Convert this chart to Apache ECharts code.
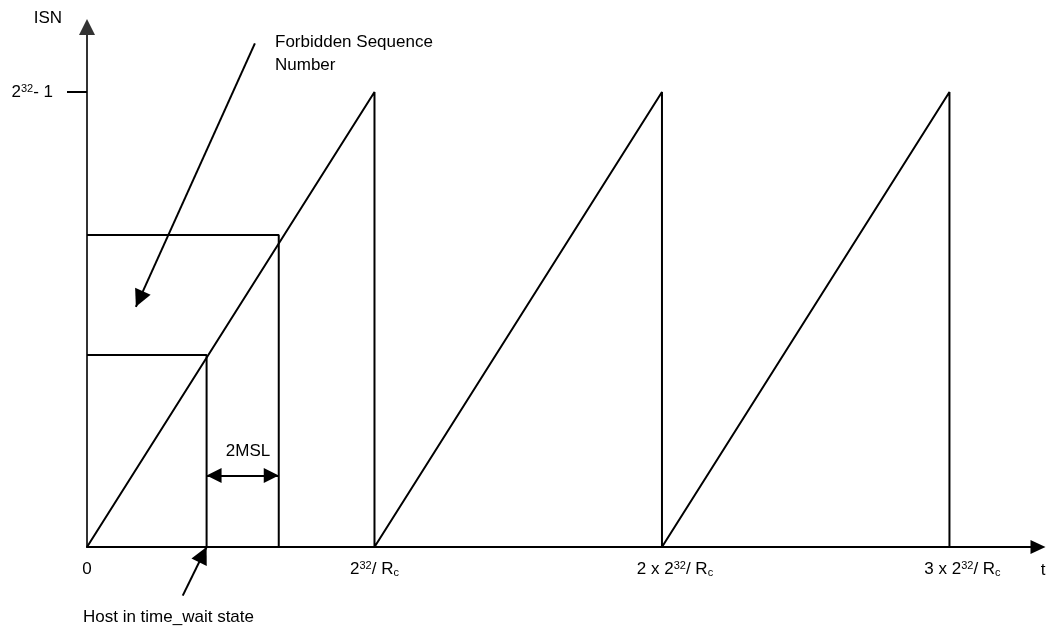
<!DOCTYPE html>
<html>
<head>
<meta charset="utf-8">
<script src="https://cdn.jsdelivr.net/npm/echarts@6/dist/echarts.min.js"></script>
<style>html,body{margin:0;padding:0;background:#fff}#c{width:1048px;height:631px}</style>
</head>
<body>
<div id="c"></div>
<script>
// time in units of one wrap period (2^32 / Rc); ISN as a fraction of 2^32 - 1
const sawTime = [0, 1, 1, 2, 2, 3, 3];
const sawISN  = [0, 1, 0, 1, 0, 1, 0];
const xTickValues = [0, 1, 2, 3];
const xTickLabels = ['0', '2{sup|32}/ R{sub|c}', '{s|}2 x 2{sup|32}/ R{sub|c}', '{s|}3 x 2{sup|32}/ R{sub|c}'];
const yTickValues = [1];
const yTickLabels = ['2{sup|32}- 1'];
// time_wait entry (inner box) and end of 2MSL (outer box)
const boxInnerTime = [0, 0.416, 0.416];
const boxInnerISN  = [0.422, 0.422, 0];
const boxOuterTime = [0, 0.667, 0.667];
const boxOuterISN  = [0.686, 0.686, 0];
// annotation arrows: [fromTime, fromISN, toTime, toISN]
const arrowForbidden = [0.584, 1.107, 0.170, 0.528];
const arrowHost      = [0.333, -0.107, 0.416, 0];
const arrow2MSL      = [0.416, 0.157, 0.667, 0.157];
// annotation texts: [time, ISN, text]
const textForbidden = [0.654, 1.0835, 'Forbidden Sequence\nNumber'];
const text2MSL      = [0.560, 0.210, '2MSL'];
const textHost      = [-0.014, -0.155, 'Host in time_wait state'];

const FONT = "'Liberation Sans', Arial, sans-serif";
const FS = 17;
const rich = {
  sup: { fontSize: 11, lineHeight: 11, verticalAlign: 'top', fontFamily: FONT, color: '#000' },
  sub: { fontSize: 11, lineHeight: 11, verticalAlign: 'bottom', fontFamily: FONT, color: '#000' },
  s: { width: 26 }
};
// solid triangle whose tip sits at the centre of a square symbol box (so it ends exactly at the line end)
const HEAD = 'path://M0,0 L0.5,1 L-0.5,1 Z M-1,-1 L-1,-1 M1,-1 L1,-1';

const zip = (a, b) => a.map((v, i) => [v, b[i]]);
const chart = echarts.init(document.getElementById('c'), null, { renderer: 'canvas' });

const blackLine = { color: '#000', width: 2 };

chart.setOption({
  animation: false,
  backgroundColor: '#fff',
  textStyle: { fontFamily: FONT },
  grid: { left: 87, right: 10, top: 27, bottom: 84, containLabel: false, outerBoundsMode: 'none' },
  xAxis: {
    type: 'value', min: 0, max: 3.308, interval: 1,
    name: 't', nameLocation: 'end', nameGap: 5,
    nameTextStyle: { fontSize: FS, fontFamily: FONT, color: '#000', align: 'center', verticalAlign: 'top', lineHeight: 18, padding: [14, 0, 0, 0] },
    axisLine: { show: true, onZero: true, lineStyle: { color: '#000', width: 2 }, symbol: ['none', 'triangle'], symbolSize: [14, 15] },
    axisTick: { show: false },
    splitLine: { show: false },
    axisLabel: {
      customValues: xTickValues, margin: 13, color: '#000', fontSize: FS, fontFamily: FONT, lineHeight: 18, rich,
      formatter: (v) => { const i = xTickValues.indexOf(v); return i >= 0 ? xTickLabels[i] : ''; }
    }
  },
  yAxis: {
    type: 'value', min: 0, max: 1.143,
    name: 'ISN', nameLocation: 'end', nameGap: 9,
    nameTextStyle: { fontSize: FS, fontFamily: FONT, color: '#000', align: 'right', verticalAlign: 'middle', padding: [0, 25, 0, 0] },
    axisLine: { show: true, lineStyle: { color: '#333', width: 2 }, symbol: ['none', 'triangle'], symbolSize: [16, 16] },
    axisTick: { show: true, customValues: yTickValues, length: 20, inside: false, lineStyle: { color: '#000', width: 2 } },
    splitLine: { show: false },
    axisLabel: {
      customValues: yTickValues, margin: 34, color: '#000', fontSize: FS, fontFamily: FONT, lineHeight: 18, rich,
      formatter: (v) => { const i = yTickValues.indexOf(v); return i >= 0 ? yTickLabels[i] : ''; }
    }
  },
  series: [
    { type: 'line', data: zip(sawTime, sawISN), symbol: 'none', clip: false, lineStyle: blackLine, silent: true },
    { type: 'line', data: zip(boxInnerTime, boxInnerISN), symbol: 'none', clip: false, lineStyle: blackLine, silent: true },
    { type: 'line', data: zip(boxOuterTime, boxOuterISN), symbol: 'none', clip: false, lineStyle: blackLine, silent: true },
    {
      type: 'lines', coordinateSystem: 'cartesian2d', clip: false, silent: true,
      lineStyle: { color: '#000', width: 2, opacity: 1, curveness: 0 },
      data: [
        { coords: [[arrowForbidden[0], arrowForbidden[1]], [arrowForbidden[2], arrowForbidden[3]]], symbol: ['none', HEAD], symbolSize: 34 },
        { coords: [[arrowHost[0], arrowHost[1]], [arrowHost[2], arrowHost[3]]], symbol: ['none', HEAD], symbolSize: 34 },
        { coords: [[arrow2MSL[0], arrow2MSL[1]], [arrow2MSL[2], arrow2MSL[3]]], symbol: [HEAD, HEAD], symbolSize: 30 }
      ]
    },
    {
      type: 'scatter', symbolSize: 0, clip: false, silent: true,
      itemStyle: { opacity: 1 },
      label: { show: true, position: 'inside', color: '#000', opacity: 1, fontSize: FS, fontFamily: FONT, formatter: (p) => p.data.value[2] },
      data: [
        { value: textForbidden, label: { align: 'left', verticalAlign: 'middle', lineHeight: 23 } },
        { value: text2MSL, label: { align: 'center', verticalAlign: 'middle' } },
        { value: textHost, label: { align: 'left', verticalAlign: 'middle' } }
      ]
    }
  ]
});
</script>
</body>
</html>
